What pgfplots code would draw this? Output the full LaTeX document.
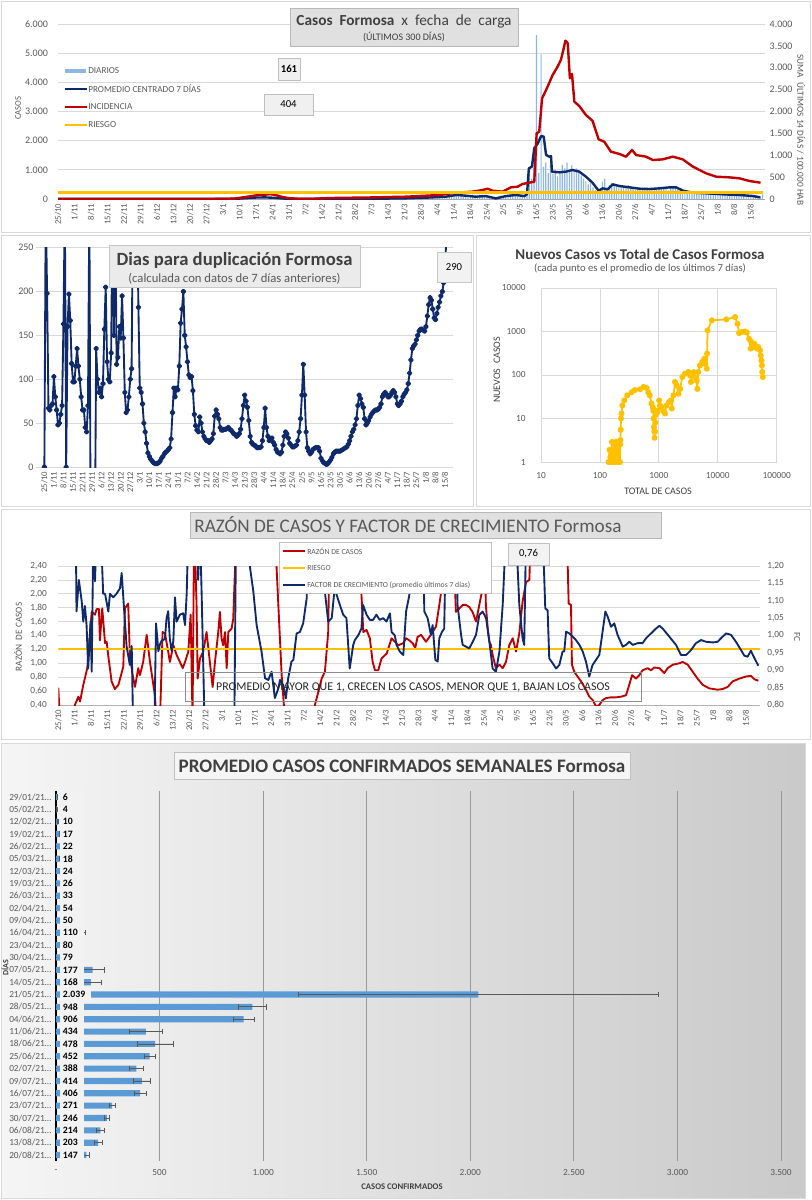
\documentclass[border=0pt]{standalone}
\usepackage{fontspec}
\setmainfont{Carlito}
\usepackage{pgfplots}
\usepackage{pgfplotstable}
\pgfplotsset{compat=1.18}
\definecolor{navy}{HTML}{0E2A6B}
\definecolor{cred}{HTML}{C00000}
\definecolor{cyel}{HTML}{FFC000}
\definecolor{cblue}{HTML}{5B9BD5}
\definecolor{lblue}{HTML}{8DB7E2}
\definecolor{txt}{HTML}{595959}
\definecolor{dtxt}{HTML}{404040}
\definecolor{cgrid}{HTML}{D9D9D9}
\newcommand\FS[1]{\fontsize{#1}{#1}\selectfont}
\pgfplotsset{
  every axis/.append style={scale only axis, anchor=south west,
    /pgf/number format/assume math mode=true,
    every tick label/.append style={text=txt}, major tick length=0pt},
  datex/.style={xtick={0,7,...,294}, xticklabels={25/10,1/11,8/11,15/11,22/11,29/11,6/12,13/12,20/12,27/12,3/1,10/1,17/1,24/1,31/1,7/2,14/2,21/2,28/2,7/3,14/3,21/3,28/3,4/4,11/4,18/4,25/4,2/5,9/5,16/5,23/5,30/5,6/6,13/6,20/6,27/6,4/7,11/7,18/7,25/7,1/8,8/8,15/8},
    xticklabel style={rotate=90, anchor=east, font=\FS{6.5}}},
}
\pgfplotstableread{
idx val err zero lab
0 6 1 0 6
1 4 1 0 4
2 10 3 0 10
3 17 2 0 17
4 22 2 0 22
5 18 2 0 18
6 24 2 0 24
7 26 2 0 26
8 33 3 0 33
9 54 4 0 54
10 50 4 0 50
11 110 30 0 110
12 80 5 0 80
13 79 5 0 79
14 177 55 0 177
15 168 49 0 168
16 2039 868 0 2.039
17 948 67 0 948
18 906 50 0 906
19 434 81 0 434
20 478 87 0 478
21 452 28 0 452
22 388 32 0 388
23 414 42 0 414
24 406 30 0 406
25 271 15 0 271
26 246 11 0 246
27 214 20 0 214
28 203 18 0 203
29 147 14 0 147
}\tblbar
\begin{document}
\begin{tikzpicture}
\path[use as bounding box] (0pt,0pt) rectangle (609pt,-900pt);
\fill[white] (0pt,0pt) rectangle (609pt,-900pt);
\begin{scope}[x=0.75pt,y=-0.75pt]
\shade[left color=white!96!black, right color=white!79!black] (1,743) rectangle (805,1198);
\draw[black!15] (1,743) rectangle (805,1198);
\draw[black!15] (1,1) rectangle (810,232);
\draw[black!15] (1,235) rectangle (473,506);
\draw[black!15] (476,235) rectangle (810,506);
\draw[black!15] (1,509) rectangle (810,739);
\end{scope}

% ---------------- Panel 1 (left axis)
\begin{axis}[at={(43.5pt,-149.25pt)}, width=530.25pt, height=131.25pt,
  xmin=0, xmax=300, ymin=0, ymax=6000, datex,
  ytick={0,1000,...,6000}, yticklabels={0,1.000,2.000,3.000,4.000,5.000,6.000},
  yticklabel style={font=\FS{7.5}, xshift=-4pt},
  ymajorgrids, grid style={cgrid, line width=0.6pt},
  axis x line*=bottom, axis y line*=left, y axis line style={draw=none}, x axis line style={draw=black!35}]
\addplot[ybar, bar width=0.9pt, fill=lblue, draw=none] coordinates {
(140,20)(141,30)(142,15)(143,40)(144,25)(145,35)(146,20)(147,50)(148,30)(149,45)(150,60)(151,25)(152,40)(153,55)(154,35)(155,70)(156,50)(157,45)(158,80)(159,60)
(160,60)(161,90)(162,40)(163,120)(164,80)(165,70)(166,150)(167,110)(168,90)(169,180)
(170,120)(171,100)(172,130)(173,90)(174,60)(175,110)(176,140)(177,80)(178,70)(179,100)
(180,150)(181,130)(182,90)(183,60)(184,20)(185,30)(186,50)(187,90)(188,120)(189,110)
(190,130)(191,100)(192,160)(193,180)(194,120)(195,140)(196,90)(197,70)(198,130)(199,350)
(200,1050)(201,700)(202,1800)(203,5620)(204,900)(205,4960)(206,1100)(207,1250)(208,900)(209,1200)
(210,850)(211,1000)(212,780)(213,900)(214,1170)(215,1050)(216,1250)(217,1000)(218,1150)(219,950)
(220,1050)(221,1000)(222,800)(223,700)(224,620)(225,500)(226,550)(227,400)(228,300)(229,280)
(230,350)(231,600)(232,700)(233,400)(234,480)(235,550)(236,520)(237,470)(238,430)(239,460)
(240,420)(241,380)(242,480)(243,400)(244,360)(245,320)(246,340)(247,380)(248,350)(249,300)
(250,330)(251,310)(252,360)(253,340)(254,370)(255,420)(256,390)(257,360)(258,330)(259,300)
(260,420)(261,400)(262,380)(263,330)(264,280)(265,250)(266,240)(267,210)(268,230)(269,200)
(270,190)(271,210)(272,180)(273,220)(274,200)(275,170)(276,190)(277,160)(278,200)(279,180)
(280,170)(281,150)(282,160)(283,180)(284,140)(285,150)(286,130)(287,160)(288,120)(289,140)
(290,130)(291,110)(292,120)(293,100)(294,90)(295,110)(296,80)(297,100)(298,70)(299,161)};
\addplot[navy, line width=1.8pt, line join=round] coordinates {
(0,2)(70,3)(76,10)(80,30)(84,50)(88,55)(92,40)(96,15)(100,5)(120,8)(140,15)(147.6,23)(156,45)(164.6,80)(169,137)(173,115)(177,80)(181.6,100)(185.8,20)(190,100)(194.3,137)(197.9,100)(199,160)(199.8,1050)(201.1,1110)(202.1,1740)(203.5,1890)(205,2160)(206.1,2140)(207.1,1510)(208.5,1450)(209.2,1470)(209.6,937)(212.7,915)(215.5,937)(218.3,995)(221.2,937)(224,766)(226.8,560)(229.4,285)(231.1,365)(233.2,331)(235.4,503)(238.2,446)(242.5,400)(246.7,354)(251,343)(255.3,366)(259.5,400)(262.3,400)(265.2,286)(269.4,217)(275.1,194)(282.1,160)(289.1,137)(294.8,103)(298,57)};
\end{axis}
% ---------------- Panel 1 (right axis)
\begin{axis}[at={(43.5pt,-149.25pt)}, width=530.25pt, height=131.25pt,
  xmin=0, xmax=300, ymin=0, ymax=4000, axis x line=none, axis y line*=right,
  y axis line style={draw=none},
  ytick={0,500,...,4000}, yticklabels={0,500,1.000,1.500,2.000,2.500,3.000,3.500,4.000},
  yticklabel style={font=\FS{7.5}}]
\addplot[cred, line width=1.8pt, line join=round] coordinates {
(0,0)(60,0)(70,2)(75,10)(80,50)(85,90)(88,100)(90,110)(92,95)(95,50)(98,20)(102,5)(108,5)(112,15)(118,25)(125,30)(132,35)(140,45)(147.6,53)(161.8,91)(168.9,145)(176,168)(180.2,206)(182.3,236)(184.4,190)(188.6,168)(192.2,267)(195,282)(197.1,343)(200,373)(202.1,396)(203.1,1500)(204.2,1540)(205.4,2300)(207.1,2490)(209.9,2835)(212,3025)(213.4,3180)(214.4,3400)(215.3,3620)(216.3,3560)(217.2,2760)(218.1,2860)(219.1,2225)(221.2,2125)(224,1920)(226.8,1790)(229.4,1364)(231.8,1310)(234.6,1082)(238.2,1030)(241,968)(243.6,1120)(245.3,1005)(249.5,968)(252.4,890)(256.6,906)(260.9,968)(265.1,906)(269.4,740)(275,587)(279.3,510)(284.9,495)(289.2,472)(293.4,411)(298.1,373)};
\addplot[cyel, line width=1.8pt] coordinates {(0,150)(299,150)};
\end{axis}

% ---------------- Panel 2
\begin{axis}[at={(27.15pt,-350.25pt)}, width=312.75pt, height=164.5pt,
  xmin=-6, xmax=300, ymin=0, ymax=250, datex, ytick={0,50,...,250},
  yticklabel style={font=\FS{7.5}, xshift=1.5pt},
  ymajorgrids, grid style={cgrid, line width=0.6pt}, axis line style={draw=none},
  clip marker paths=true]
\addplot[navy, line width=1.4pt, line join=round, mark=*, mark size=1.4pt] coordinates {
(0,0)(1,300)(2,198)(3,67)(4,65)(5,70)(6,72)(7,103)(8,80)(9,65)(10,48)(11,50)(12,60)(13,70)(14,163)(15,300)(16,0)(17,160)(18,197)(19,167)(20,118)(21,97)(22,97)(23,115)(24,135)(25,115)(26,100)(27,80)(28,65)(29,65)(30,45)(31,40)(32,70)(33,300)(34,-100)(35,-100)(36,-100)(37,-100)(38,135)(39,100)(40,85)(41,90)(42,80)(43,95)(44,157)(45,205)(46,120)(47,100)(48,97)(49,130)(50,300)(51,150)(52,300)(53,117)(54,125)(55,160)(56,147)(57,195)(58,147)(59,85)(60,62)(61,65)(62,80)(63,100)(64,112)(65,300)(66,300)(67,300)(68,300)(69,182)(70,90)(71,85)(72,72)(73,50)(74,40)(75,27)(76,16)(77,12)(78,9)(79,7)(80,5)(81,4)(82,4)(83,4)(84,5)(85,7)(86,10)(87,12)(88,15)(89,17)(90,18)(91,20)(92,22)(93,32)(94,62)(95,90)(96,80)(97,90)(98,88)(99,115)
(100,164)(101,180)(102,200)(103,150)(104,137)(105,120)(106,105)(107,102)(108,103)(109,87)(110,60)(111,47)(112,42)(113,40)(114,57)(115,50)(116,40)(117,35)(118,32)(119,30)(120,30)(121,28)(122,30)(123,32)(124,38)(125,58)(126,65)(127,60)(128,55)(129,45)(130,42)(131,42)(132,43)(133,43)(134,44)(135,45)(136,43)(137,42)(138,40)(139,38)(140,37)(141,35)(142,36)(143,38)(144,43)(145,55)(146,70)(147,82)(148,75)(149,68)(150,53)(151,35)(152,28)(153,26)(154,25)(155,24)(156,22)(157,22)(158,22)(159,23)(160,30)(161,45)(162,67)(163,45)(164,35)(165,30)(166,32)(167,33)(168,28)(169,25)(170,20)(171,17)(172,16)(173,15)(174,17)(175,25)(176,35)(177,40)(178,38)(179,33)(180,27)(181,25)(182,23)(183,23)(184,24)(185,25)(186,30)(187,40)(188,55)(189,82)(190,117)(191,82)(192,40)(193,22)(194,18)(195,15)(196,17)(197,20)(198,21)(199,22)
(200,22)(201,22)(202,18)(203,10)(204,7)(205,5)(206,4)(207,3)(208,4)(209,6)(210,8)(211,11)(212,15)(213,17)(214,18)(215,18)(216,18)(217,18)(218,19)(219,20)(220,21)(221,22)(222,23)(223,26)(224,30)(225,35)(226,40)(227,43)(228,48)(229,55)(230,70)(231,82)(232,78)(233,72)(234,68)(235,55)(236,48)(237,50)(238,53)(239,57)(240,60)(241,62)(242,64)(243,65)(244,65)(245,66)(246,68)(247,72)(248,80)(249,83)(250,85)(251,83)(252,80)(253,80)(254,82)(255,85)(256,87)(257,85)(258,80)(259,72)(260,70)(261,72)(262,75)(263,80)(264,83)(265,85)(266,88)(267,95)(268,107)(269,122)(270,135)(271,138)(272,140)(273,145)(274,150)(275,155)(276,157)(277,157)(278,156)(279,155)(280,160)(281,172)(282,185)(283,193)(284,190)(285,180)(286,170)(287,168)(288,175)(289,182)(290,188)(291,195)(292,200)(293,210)(294,230)(295,260)(296,290)};
\end{axis}

% ---------------- Panel 3
\begin{axis}[at={(405.75pt,-346.5pt)}, width=176.8pt, height=130.5pt,
  xmode=log, ymode=log, xmin=10, xmax=100000, ymin=1, ymax=10000,
  xtick={10,100,1000,10000,100000}, xticklabels={10,100,1000,10000,100000},
  ytick={1,10,100,1000,10000}, yticklabels={1,10,100,1000,10000},
  minor tick num=0, xminorticks=false, yminorticks=false,
  tick label style={font=\FS{7}},
  yticklabel style={xshift=-8pt}, xticklabel style={yshift=-4pt},
  grid=major, grid style={cgrid, line width=0.6pt}, axis line style={cgrid}]
\addplot[cyel, line width=1.3pt, mark=*, mark size=1.6pt, line join=round] coordinates {
(140,1)(145,1.9)(150,1.3)(155,1)(160,2.9)(165,1.6)(170,1)(175,2.4)(180,1)(185,1.4)(190,2.9)(195,1.9)(200,1)(205,2.7)(210,1)(215,3)(218,1)(220,2.5)(222,3.2)(225,5.5)(228,10)(232,13)(240,20)(258,26)(290,34)(345,40)(390,45)(478,47)(548,53)(620,50)(660,40)(700,34)(750,22)(790,18)(805,15)(815,10)(825,6.4)(835,5)(845,3.6)(860,5)(870,8)(880,12)(900,15)(950,14)(1010,26)(1050,20)(1110,18)(1190,15)(1270,13)(1350,20)(1490,24)(1600,26)(1650,17)(1770,34)(1880,69)(2000,58)(2150,37)(2290,48)(2500,90)(2770,107)(3170,117)(3380,98)(3500,69)(3900,117)(4110,90)(4380,75)(4500,48)(4660,117)(4980,166)(5440,200)(5900,237)(6160,180)(6500,140)(6580,310)(6700,1060)(7900,1800)(14000,1900)(19700,2150)(21600,1500)(23000,920)(25300,970)(28900,1000)(30900,945)(33900,680)(36000,405)(37000,580)(39500,440)(42000,520)(46000,405)(48600,440)(52000,370)(53500,280)(54900,216)(56000,166)(56700,117)(58000,90)};
\end{axis}

% ---------------- Panel 4 (left)
\begin{axis}[at={(43.7pt,-528.75pt)}, width=526.3pt, height=104.25pt,
  xmin=0, xmax=300, ymin=0.4, ymax=2.4, datex,
  ytick={0.4,0.6,0.8,1.0,1.2,1.4,1.6,1.8,2.0,2.2,2.4},
  yticklabels={{0,40},{0,60},{0,80},{1,00},{1,20},{1,40},{1,60},{1,80},{2,00},{2,20},{2,40}},
  yticklabel style={font=\FS{7}, xshift=-5pt},
  ymajorgrids, grid style={cgrid, line width=0.6pt},
  axis x line*=bottom, axis y line*=left, y axis line style={draw=none}, x axis line style={draw=black!30}]
\addplot[cred, line width=1.4pt, line join=round] coordinates {
(0,0.65)(0.7,0.2)(6.5,0.2)(7.1,0.40)(8.6,0.52)(9.3,0.45)(10.7,0.69)(12.4,0.93)(14.3,1.74)(15.7,1.70)(16.4,1.78)(17.4,1.78)(17.8,1.33)(18.8,1.79)(20,1.29)(20.7,1.31)(21.4,1.10)(22.8,0.74)(24.2,0.63)(25.7,0.69)(27.8,0.95)(28.5,1.79)(29.9,1.86)(30.6,1.12)(31.8,0.83)(32.8,0.66)(34.2,0.93)(34.9,0.83)(36.3,1.02)(37.8,1.41)(39.2,1.02)(41.3,0.54)(42,0.2)(43.5,0.2)(44.6,1.45)(45.6,1.43)(47,1.17)(47.7,1.02)(49.2,1.26)(50.6,1.12)(52,1.02)(53.2,0.93)(54.2,1.02)(55.6,1.17)(56.6,1.70)(57.4,0.2)(58.1,3.0)(59.1,1.88)(59.6,0.78)(60.6,1.07)(62,1.17)(63.4,1.45)(64.8,1.02)(66,0.66)(67,1.02)(68.4,1.45)(69.1,1.74)(69.8,1.36)(70.5,1.26)(71.3,1.45)(72,0.93)(72.7,1.45)(74.1,1.50)(74.8,1.64)(75.5,2.30)(76.2,3.0)(92.5,3.0)(93.3,2.40)(95.5,0.83)(96.9,0.2)(109,0.2)(109.7,0.40)(111.2,0.59)(112.6,0.78)(114,0.88)(115.4,1.45)(116.1,3.0)(128.5,3.0)(129,2.40)(129.7,1.93)(130.4,1.45)(131.8,1.48)(133.2,1.36)(134.4,1.02)(135.4,0.90)(136.8,0.90)(138.2,1.07)(140.4,1.14)(142.5,1.36)(143.9,1.31)(145.4,1.26)(147.5,1.29)(148.7,1.36)(150.1,1.33)(151.5,1.29)(152.6,1.22)(153.6,1.38)(155.1,1.41)(157.2,1.31)(159.3,1.41)(161.5,1.53)(162.9,1.84)(164.3,2.17)(165.5,3.0)(167.2,2.08)(168.6,3.0)(170,1.74)(171.5,1.79)(172.9,1.84)(174.3,1.84)(175.7,1.81)(177.1,1.74)(178.6,1.60)(180,1.84)(181.4,2.08)(182.1,3.0)(182.8,1.84)(183.6,1.50)(184.3,1.31)(185,1.26)(185.7,1.12)(187.1,0.93)(188.6,0.98)(190,0.93)(191.4,1.02)(192.8,1.26)(194.3,1.36)(195.7,1.17)(197.1,1.43)(198.5,1.89)(200,2.17)(201.4,2.20)(202.1,3.0)(217.3,3.0)(217.8,2.40)(218.2,1.86)(219.2,1.84)(219.6,0.98)(220.6,0.88)(222,0.81)(223.5,0.74)(225.6,0.62)(227,0.52)(228.5,0.47)(229.9,0.38)(231.3,0.40)(232.7,0.47)(234.2,0.50)(236.3,0.51)(238.4,0.51)(240.6,0.52)(242.7,0.54)(244.1,0.69)(245.3,0.83)(247,0.78)(248.4,0.83)(249.8,0.90)(252,0.93)(253.4,0.90)(254.8,0.94)(257,0.93)(259.1,0.86)(260.5,0.93)(262.7,0.98)(265.5,1.0)(266.9,1.02)(269.1,0.98)(271.2,0.88)(273.3,0.78)(275.5,0.69)(278.3,0.64)(281.9,0.62)(284,0.63)(286.2,0.66)(288.3,0.74)(291.2,0.78)(294,0.81)(296.1,0.82)(297.6,0.77)(299.3,0.75)};
\addplot[cyel, line width=1.6pt] coordinates {(0,1.2)(300,1.2)};
\end{axis}
% ---------------- Panel 4 (right)
\begin{axis}[at={(43.7pt,-528.75pt)}, width=526.3pt, height=104.25pt,
  xmin=0, xmax=300, ymin=0.8, ymax=1.2, axis x line=none, axis y line*=right,
  y axis line style={draw=none},
  ytick={0.8,0.85,0.9,0.95,1.0,1.05,1.1,1.15,1.2},
  yticklabels={{0,80},{0,85},{0,90},{0,95},{1,00},{1,05},{1,10},{1,15},{1,20}},
  yticklabel style={font=\FS{7}, xshift=2pt}]
\addplot[navy, line width=1.4pt, line join=round] coordinates {
(7.5,1.30)(7.8,1.069)(8.8,1.16)(10,1.10)(10.7,1.04)(11.4,1.085)(12.1,1.03)(12.8,0.905)(13.8,1.04)(14.3,0.896)(15,1.30)(15.7,1.156)(16.4,1.30)(18.2,1.30)(19.2,1.12)(20,1.12)(21.4,1.069)(22.1,1.12)(23.5,1.11)(24.9,1.12)(26.4,1.136)(27.1,1.18)(27.8,1.11)(28.5,1.04)(29.2,0.97)(30.6,0.915)(31.4,0.97)(32.1,0.70)(41,0.70)(41.8,1.035)(42.8,0.955)(43.5,0.975)(44.2,0.985)(45.6,0.99)(46.3,1.05)(47,1.07)(47.7,0.99)(48.5,0.955)(49.2,0.985)(49.9,1.11)(50.6,1.04)(52,1.06)(53.4,1.064)(54.2,1.03)(54.9,1.12)(55.6,1.30)(59.1,1.30)(59.8,1.16)(60.6,1.30)(61.3,1.12)(62.7,0.70)(75.2,0.70)(76,1.30)(81.5,1.30)(81.9,1.20)(83.4,1.126)(84.8,1.03)(86.9,0.954)(88.4,0.877)(89.8,0.872)(91.2,0.896)(92.6,0.82)(94.1,0.848)(94.8,0.872)(96.2,0.857)(97.3,0.819)(98.3,0.877)(99.7,0.925)(100.5,0.93)(101.9,1.006)(103.3,1.01)(104.7,1.035)(106.2,1.107)(106.9,1.30)(113,1.30)(113.3,1.20)(114,1.125)(115.4,1.04)(116.9,1.05)(118.3,1.145)(119,1.117)(120.4,1.088)(121.8,1.06)(123.2,1.05)(124.6,0.905)(126.1,0.973)(126.8,0.987)(128.2,1.0)(129.6,1.02)(130.3,1.088)(131.8,1.06)(133.2,1.045)(134.6,1.045)(136,1.06)(137.4,1.045)(138.9,1.05)(140.3,1.04)(141.8,1.064)(142.5,1.01)(143.9,1.0)(144.6,0.973)(146,0.954)(147.5,0.944)(148.7,1.069)(150.1,1.117)(150.8,1.30)(155.8,1.30)(156.5,1.069)(157.9,1.05)(159.3,1.002)(160.05,1.03)(161.2,0.93)(162.2,0.925)(162.9,0.992)(164,1.01)(165,1.02)(165.75,1.30)(170,1.30)(170.7,1.088)(172.2,1.002)(172.9,0.973)(174.3,0.968)(175.7,0.963)(177.2,0.982)(178.6,1.002)(180,1.059)(181.4,1.069)(182.9,1.05)(184.3,0.982)(185.7,0.905)(187.1,0.896)(188.6,0.954)(190,1.088)(191.4,1.30)(195.7,1.30)(197.1,1.088)(198.5,0.992)(199.2,0.973)(200,1.30)(207.1,1.30)(208.2,1.078)(209.2,1.073)(209.9,0.934)(211.4,0.920)(212.8,0.905)(214.2,0.915)(215.6,0.954)(216.3,0.954)(217.1,1.011)(218.5,1.006)(219.9,0.997)(221.3,0.987)(222.8,0.973)(224.2,0.954)(225.6,0.925)(227,0.882)(228.4,0.915)(229.9,0.930)(231.3,0.944)(232.7,1.011)(233.9,1.069)(234.9,1.054)(236.3,1.025)(237.7,1.035)(239.1,1.002)(241.3,0.968)(242.7,0.973)(244.1,0.982)(245.6,0.973)(247.7,0.978)(249.8,0.978)(251.3,0.992)(253.4,1.006)(255.5,1.02)(257,1.028)(258.4,1.02)(261.2,0.997)(264.1,0.973)(266.2,0.944)(268.4,0.944)(270.5,0.958)(272.6,0.978)(274.8,0.987)(276.9,0.982)(279.8,0.980)(281.9,0.982)(283.3,0.992)(285.5,1.006)(287.6,1.002)(289.7,0.982)(291.9,0.958)(293.3,0.942)(294.7,0.939)(296.1,0.956)(297.6,0.935)(299.3,0.913)};
\end{axis}

% ---------------- Panel 5
\begin{axis}[at={(42pt,-870.9pt)}, width=543.75pt, height=277.8pt,
  xmin=0, xmax=3500, ymin=-0.5, ymax=29.5, y dir=reverse,
  xtick={0,500,...,3500}, xticklabels={-,500,1.000,1.500,2.000,2.500,3.000,3.500},
  xticklabel style={font=\FS{7}, yshift=-3pt},
  ytick={0,...,29},
  yticklabels={29/01/21…,05/02/21…,12/02/21…,19/02/21…,26/02/21…,05/03/21…,12/03/21…,19/03/21…,26/03/21…,02/04/21…,09/04/21…,16/04/21…,23/04/21…,30/04/21…,07/05/21…,14/05/21…,21/05/21…,28/05/21…,04/06/21…,11/06/21…,18/06/21…,25/06/21…,02/07/21…,09/07/21…,16/07/21…,23/07/21…,30/07/21…,06/08/21…,13/08/21…,20/08/21…},
  yticklabel style={font=\FS{7}},
  xmajorgrids, grid style={black!40, line width=0.6pt},
  axis x line*=bottom, axis y line*=left, x axis line style={draw=none}, y axis line style={draw=black, line width=0.9pt}]
\addplot[xbar, bar width=4.6pt, fill=cblue, draw=none,
  error bars/.cd, x dir=both, x explicit, error mark=|, error bar style={black!65, line width=0.6pt}, error mark options={mark size=2pt, black!65}]
  table[x=val, y=idx, x error=err] {\tblbar};
\fill[white!95!black] (axis cs:17,-0.5) rectangle (axis cs:133,29.5);
\fill[white!95!black] (axis cs:133,15.5) rectangle (axis cs:170,16.5);
\addplot[only marks, mark=*, mark size=0.01pt, mark options={draw=none, fill=none},
  nodes near coords, point meta=explicit symbolic,
  nodes near coords style={anchor=west, font=\FS{7.3}\bfseries, text=black, inner sep=0pt, xshift=5pt}]
  table[x=zero, y=idx, meta=lab] {\tblbar};
\end{axis}

% ---------------- overlays
\begin{scope}[x=0.75pt,y=-0.75pt]
% panel 1
\draw[black!28, fill=black!12] (290,8) rectangle (518,46);
\node[text=dtxt] at (404,21) {\FS{11.5}\textbf{Casos\ \ Formosa}\ \ x\ \ fecha\ \ de\ \ carga};
\node[text=dtxt] at (404,37) {\FS{7.5}(ÚLTIMOS 300 DÍAS)};
\fill[lblue] (65,68.5) rectangle (86,73);
\draw[navy, line width=1.6pt] (65,89) -- (87,89);
\draw[cred, line width=1.6pt] (65,107) -- (87,107);
\draw[cyel, line width=1.6pt] (65,125) -- (87,125);
\node[anchor=west, text=txt, inner sep=0pt] at (88,71) {\FS{6.9}DIARIOS};
\node[anchor=west, text=txt, inner sep=0pt] at (88,89) {\FS{6.9}PROMEDIO CENTRADO 7 DÍAS};
\node[anchor=west, text=txt, inner sep=0pt] at (88,107) {\FS{6.9}INCIDENCIA};
\node[anchor=west, text=txt, inner sep=0pt] at (88,125) {\FS{6.9}RIESGO};
\draw[black!25, fill=black!6] (278,58) rectangle (300,80);
\node at (289,69) {\FS{8}\textbf{161}};
\draw[black!25, fill=black!6] (264,94) rectangle (313,115);
\node at (288.5,104.5) {\FS{8}404};
\node[rotate=90, text=txt] at (18,108) {\FS{6.5}CASOS};
\node[rotate=-90, text=txt] at (801,130) {\FS{7}SUMA\ \ ÚLTIMOS 14 DÍAS / 100.000 HAB};
% panel 2
\draw[black!22, fill=black!8] (109,245) rectangle (360,287);
\node[text=dtxt] at (234.5,260) {\FS{14}\textbf{Dias para duplicación Formosa}};
\node[text=txt] at (234.5,279) {\FS{9.5}(calculada con datos de 7 días anteriores)};
\draw[black!22, fill=black!5] (437,252) rectangle (471,282);
\node at (454,267) {\FS{8}290};
% panel 3
\node[text=dtxt] at (640,254) {\FS{11.2}\textbf{Nuevos Casos vs Total de Casos Formosa}};
\node[text=txt] at (640,268) {\FS{8}(cada punto es el promedio de los últimos 7 días)};
\node[rotate=90, text=dtxt] at (497,370) {\FS{7.5}NUEVOS\ \ CASOS};
\node[text=dtxt] at (658,491) {\FS{7.5}TOTAL DE CASOS};
% panel 4
\draw[black!28, fill=black!12] (190,512) rectangle (661,538);
\node[text=txt] at (408,525) {\FS{14.4}RAZÓN DE CASOS Y FACTOR DE CRECIMIENTO Formosa};
\draw[black!25, fill=white] (279,542) rectangle (491,593);
\draw[cred, line width=1.6pt] (283,551) -- (305,551);
\draw[cyel, line width=1.6pt] (283,568) -- (305,568);
\draw[navy, line width=1.6pt] (283,585) -- (305,585);
\node[anchor=west, text=txt, inner sep=0pt] at (307,551) {\FS{5.8}RAZÓN DE CASOS};
\node[anchor=west, text=txt, inner sep=0pt] at (307,568) {\FS{5.8}RIESGO};
\node[anchor=west, text=txt, inner sep=0pt] at (307,585) {\FS{5.8}FACTOR DE CRECIMIENTO (promedio últimos 7 días)};
\draw[black!25, fill=black!5] (508,543) rectangle (549,565);
\node at (528.5,554) {\FS{8}0,76};
\draw[black!45] (185,672) rectangle (641,701);
\node[text=black!85] at (413,687) {\FS{8.9}PROMEDIO MAYOR QUE 1, CRECEN LOS CASOS, MENOR QUE 1, BAJAN LOS CASOS};
\node[rotate=90, text=txt] at (18,637) {\FS{7}RAZÓN\ \ DE CASOS};
\node[rotate=-90, text=txt] at (797,637) {\FS{7}FC};
% panel 5
\draw[black!25, fill=white!96!black] (174,752) rectangle (630,779);
\node[text=dtxt] at (402,766) {\FS{14.3}\textbf{PROMEDIO CASOS CONFIRMADOS SEMANALES Formosa}};
\node[text=dtxt] at (402,1187) {\FS{6.5}\textbf{CASOS CONFIRMADOS}};
\node[rotate=90, text=dtxt] at (5,968) {\FS{6}\textbf{DÍAS}};
\end{scope}
\end{tikzpicture}
\end{document}
